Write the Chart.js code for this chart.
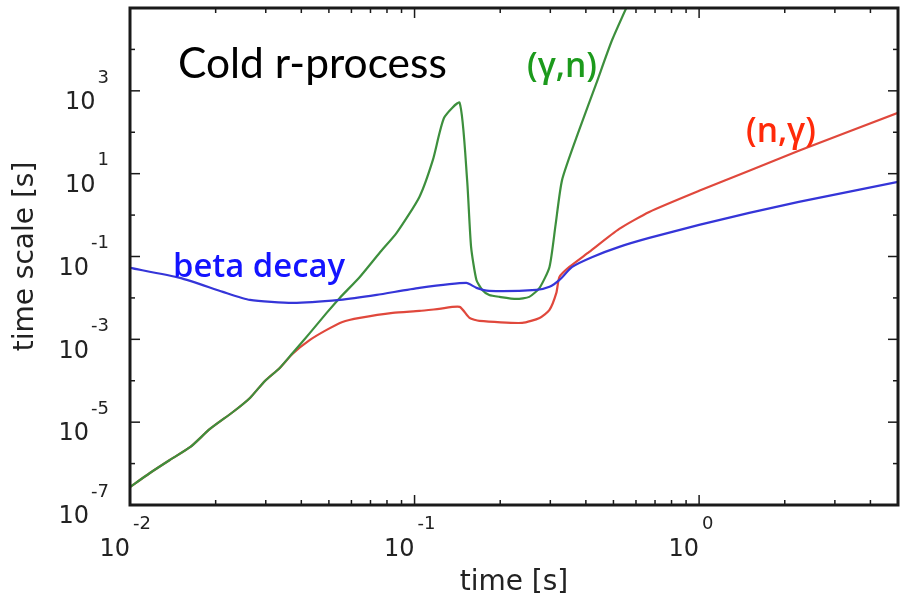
<!DOCTYPE html>
<html>
<head>
<meta charset="utf-8">
<title>Cold r-process time scales</title>
<script src="https://cdn.jsdelivr.net/npm/chart.js@4.4.1/dist/chart.umd.min.js"></script>
<style>
  html, body { margin: 0; padding: 0; background: #ffffff; }
  #wrap { width: 904px; height: 603px; }
</style>
</head>
<body>
<div id="wrap"><canvas id="chart" width="904" height="603"></canvas></div>
<script>
// values: time [s] and time scale [s]
const gnTime = [0.01, 0.01175, 0.0138, 0.0163, 0.0191, 0.0230, 0.0264, 0.0298, 0.0336, 0.0373,
  0.0429, 0.0491, 0.0546, 0.0642, 0.0753, 0.0865, 0.104, 0.116, 0.127, 0.144,
  0.153, 0.158, 0.165, 0.173, 0.183, 0.199, 0.228, 0.253, 0.275, 0.298,
  0.313, 0.330, 0.379, 0.436, 0.495, 0.615];
const gnScale = [2.72e-7, 5.93e-7, 1.22e-6, 2.52e-6, 6.86e-6, 1.76e-5, 3.85e-5, 9.89e-5, 2.04e-4, 4.69e-4,
  1.43e-3, 4.35e-3, 1.00e-2, 3.21e-2, 0.122, 0.372, 2.75, 21.5, 223, 513,
  7.08, 0.171, 2.72e-2, 1.56e-2, 1.18e-2, 1.06e-2, 9.46e-3, 1.06e-2, 1.75e-2, 5.61e-2,
  0.579, 7.08, 114, 1560, 17100, 4.8e5];

const ngTime = [0.01, 0.01175, 0.0138, 0.0163, 0.0191, 0.0230, 0.0264, 0.0298, 0.0336, 0.0373,
  0.0429, 0.0491, 0.0558, 0.0642, 0.0838, 0.104, 0.122, 0.144, 0.156, 0.169,
  0.239, 0.275, 0.298, 0.315, 0.323, 0.350, 0.411, 0.524, 0.668, 1,
  1.50, 2.24, 5];
const ngScale = [2.72e-7, 5.93e-7, 1.22e-6, 2.52e-6, 6.86e-6, 1.76e-5, 3.85e-5, 9.89e-5, 2.04e-4, 4.5e-4,
  9.68e-4, 1.69e-3, 2.63e-3, 3.29e-3, 4.35e-3, 4.85e-3, 5.42e-3, 6.07e-3, 3.29e-3, 2.78e-3,
  2.49e-3, 3.29e-3, 5.13e-3, 1.32e-2, 3.21e-2, 5.61e-2, 0.129, 0.464, 1.19, 3.85,
  11.7, 35.6, 294];

const betaTime = [0.01, 0.015, 0.0212, 0.0264, 0.0373, 0.0546, 0.0736, 0.104, 0.152, 0.165,
  0.183, 0.268, 0.298, 0.323, 0.358, 0.422, 0.524, 0.668, 1, 1.50,
  2.24, 5];
const betaScale = [5.31e-2, 3.04e-2, 1.40e-2, 8.95e-3, 7.57e-3, 8.95e-3, 1.18e-2, 1.75e-2, 2.30e-2, 1.75e-2,
  1.48e-2, 1.56e-2, 1.85e-2, 2.72e-2, 5.61e-2, 9.77e-2, 0.171, 0.281, 0.579, 1.13,
  2.08, 6.34];

// tick labels are drawn as 10 with a raised exponent
const xTickExps = ['-2', '-1', '0'];
const yTickExps = ['-7', '-5', '-3', '-1', '1', '3'];

const TICK_FONT = '"DejaVu Sans", sans-serif';
const NOTE_FONT = '"Open Sans", "Noto Sans", sans-serif';

const toPoints = (xs, ys) => xs.map((t, i) => ({ x: t, y: ys[i] }));

/** Writes text scaled so that it spans the given width. */
function fitText(ctx, text, left, baseline, width, weight, family, color) {
  ctx.font = `${weight} 40px ${family}`;
  const size = 40 * width / ctx.measureText(text).width;
  ctx.font = `${weight} ${size.toFixed(1)}px ${family}`;
  ctx.fillStyle = color;
  ctx.textAlign = 'left';
  ctx.textBaseline = 'alphabetic';
  ctx.fillText(text, left, baseline);
}

// inward ticks on all four sides, frame, power-of-ten labels and notes
const axesAndNotes = {
  id: 'axesAndNotes',
  afterDatasetsDraw(chart) {
    const { ctx, chartArea: a, scales: { x, y } } = chart;
    ctx.save();
    ctx.strokeStyle = '#1a1a1a';
    ctx.lineWidth = 1.5;
    const seg = (x1, y1, x2, y2) => {
      ctx.beginPath(); ctx.moveTo(x1, y1); ctx.lineTo(x2, y2); ctx.stroke();
    };
    for (let e = -7; e <= 5; e++) {
      const py = y.getPixelForValue(Math.pow(10, e));
      const len = Math.abs(e) % 2 === 1 ? 10 : 5;
      seg(a.left, py, a.left + len, py);
      seg(a.right, py, a.right - len, py);
    }
    for (let e = -2; e <= 0; e++) {
      for (let m = 1; m <= 9; m++) {
        const v = m * Math.pow(10, e);
        if (v > x.max) break;
        const px = x.getPixelForValue(v);
        const len = m === 1 ? 10 : 5;
        seg(px, a.bottom, px, a.bottom - len);
        seg(px, a.top, px, a.top + len);
      }
    }
    ctx.lineWidth = 3;
    ctx.strokeRect(a.left, a.top, a.right - a.left, a.bottom - a.top);

    // y tick labels
    ctx.fillStyle = '#222';
    ctx.textBaseline = 'middle';
    yTickExps.forEach((ex) => {
      const py = y.getPixelForValue(Math.pow(10, Number(ex)));
      ctx.font = `18px ${TICK_FONT}`;
      ctx.textAlign = 'right';
      ctx.fillText(ex, 109, py - 13);
      const w = ctx.measureText(ex).width;
      ctx.font = `24px ${TICK_FONT}`;
      ctx.fillText('10', 109 - w - 2, py + 12);
    });
    // x tick labels
    xTickExps.forEach((ex) => {
      const px = x.getPixelForValue(Math.pow(10, Number(ex)));
      ctx.font = `24px ${TICK_FONT}`;
      ctx.textAlign = 'right';
      ctx.fillText('10', px, a.bottom + 45);
      ctx.font = `18px ${TICK_FONT}`;
      ctx.textAlign = 'left';
      ctx.fillText(ex, px + 3, a.bottom + 19);
    });

    // axis titles
    ctx.fillStyle = '#222';
    ctx.font = `28px ${TICK_FONT}`;
    ctx.textAlign = 'center';
    ctx.fillText('time [s]', (a.left + a.right) / 2, 583);
    ctx.save();
    ctx.translate(26, (a.top + a.bottom) / 2);
    ctx.rotate(-Math.PI / 2);
    ctx.fillText('time scale [s]', 0, 0);
    ctx.restore();

    // notes
    fitText(ctx, 'Cold r-process', 178, 78, 269, 'normal', '"Lato", sans-serif', '#000000');
    fitText(ctx, '(\u03b3,n)', 527, 77, 70, '600', NOTE_FONT, '#1c9a1c');
    fitText(ctx, '(n,\u03b3)', 746, 142, 70, '600', NOTE_FONT, '#ff2a0a');
    fitText(ctx, 'beta decay', 173, 277, 172, '600', NOTE_FONT, '#1414ff');
    ctx.restore();
  }
};

const hiddenAxis = (min, max) => ({
  type: 'logarithmic',
  min, max,
  ticks: { display: false },
  grid: { display: false, drawTicks: false },
  border: { display: false },
  title: { display: false }
});

new Chart(document.getElementById('chart'), {
  type: 'line',
  data: {
    datasets: [
      {
        label: 'beta decay',
        data: toPoints(betaTime, betaScale),
        borderColor: '#3535d8',
        order: 0
      },
      {
        label: '(\u03b3,n)',
        data: toPoints(gnTime, gnScale),
        borderColor: '#3d8f3d',
        order: 1
      },
      {
        label: '(n,\u03b3)',
        data: toPoints(ngTime, ngScale),
        borderColor: '#e0483c',
        order: 2
      }
    ]
  },
  options: {
    responsive: false,
    animation: false,
    events: [],
    layout: { padding: { left: 130, right: 6, top: 8, bottom: 98 } },
    elements: {
      line: { borderWidth: 2.2, tension: 0.2, borderJoinStyle: 'round', fill: false },
      point: { radius: 0 }
    },
    scales: {
      x: hiddenAxis(0.01, 5),
      y: hiddenAxis(1e-7, 1e5)
    },
    plugins: {
      legend: { display: false },
      tooltip: { enabled: false }
    }
  },
  plugins: [axesAndNotes]
});
</script>
</body>
</html>
